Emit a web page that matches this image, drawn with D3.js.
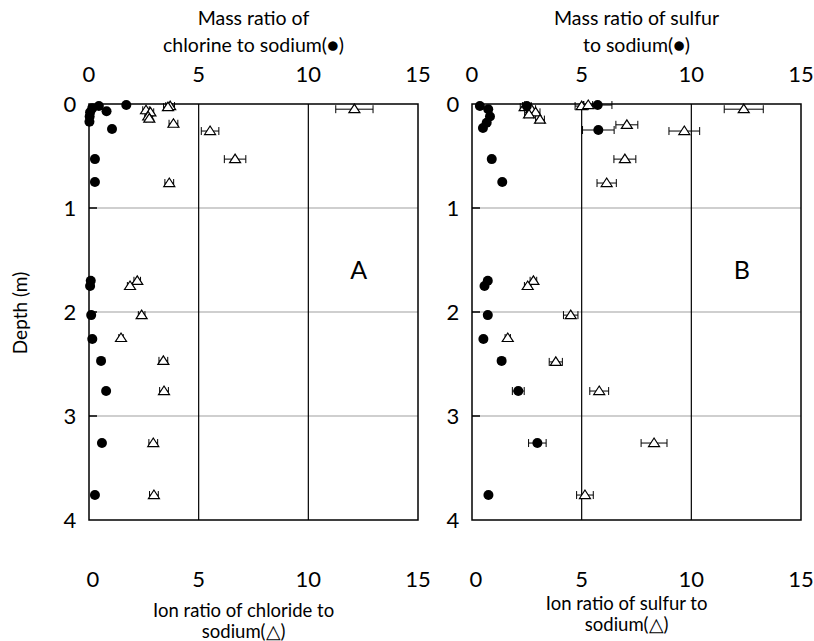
<!DOCTYPE html>
<html lang="en">
<head>
<meta charset="utf-8">
<title>Depth profiles</title>
<script src="https://d3js.org/d3.v7.min.js"></script>
<style>
  body { margin: 0; background: #fff; }
  svg { font-family: Lato, "Noto Sans", sans-serif; }
</style>
</head>
<body>
<svg id="chart" width="814" height="641"></svg>
<script>
// axis ticks
var xTicks = [0, 5, 10, 15]
var depthTicks = [0, 1, 2, 3, 4]

// panel A - chlorine, mass ratio (filled circles)
var clMassDepth = [0.01, 0.02, 0.04, 0.07, 0.08, 0.12, 0.17, 0.24, 0.53, 0.75, 1.70, 1.75, 2.03, 2.26, 2.47, 2.76, 3.26, 3.76]
var clMassVal   = [1.70, 0.45, 0.15, 0.80, 0.05, 0.03, 0.02, 1.05, 0.27, 0.27, 0.08, 0.05, 0.10, 0.15, 0.55, 0.78, 0.59, 0.27]
// panel A - chloride, ion ratio (open triangles, with error)
var clIonDepth = [0.02, 0.03, 0.06, 0.08, 0.12, 0.14, 0.19, 0.26, 0.53, 0.76, 0.05, 1.70, 1.75, 2.03, 2.25, 2.47, 2.76, 3.26, 3.76]
var clIonVal   = [3.70, 3.60, 2.60, 2.80, 2.70, 2.75, 3.85, 5.52, 6.66, 3.66, 12.1, 2.20, 1.87, 2.40, 1.46, 3.39, 3.42, 2.93, 2.96]
var clIonErr   = [0.20, 0.20, 0.15, 0.15, 0.15, 0.15, 0.20, 0.40, 0.49, 0.20, 0.85, 0.15, 0.12, 0.15, 0.10, 0.20, 0.20, 0.20, 0.20]

// panel B - sulfur, mass ratio (filled circles, with error)
var sMassDepth = [0.01, 0.02, 0.05, 0.12, 0.18, 0.23, 0.02, 0.25, 0.53, 0.75, 1.70, 1.75, 2.03, 2.26, 2.47, 2.76, 3.26, 3.76]
var sMassVal   = [5.73, 0.36, 0.74, 0.82, 0.67, 0.50, 2.50, 5.76, 0.90, 1.38, 0.72, 0.57, 0.72, 0.52, 1.35, 2.11, 2.98, 0.75]
var sMassErr   = [0.65, 0.00, 0.00, 0.00, 0.00, 0.00, 0.20, 0.72, 0.00, 0.10, 0.00, 0.00, 0.00, 0.00, 0.00, 0.27, 0.40, 0.00]
// panel B - sulfur, ion ratio (open triangles, with error)
var sIonDepth = [0.03, 0.05, 0.08, 0.10, 0.15, 0.02, 0.01, 0.20, 0.26, 0.53, 0.76, 0.05, 1.70, 1.75, 2.03, 2.25, 2.48, 2.76, 3.26, 3.76]
var sIonVal   = [2.40, 2.70, 2.90, 2.60, 3.10, 5.00, 5.30, 7.06, 9.68, 6.97, 6.14, 12.39, 2.80, 2.54, 4.50, 1.63, 3.82, 5.80, 8.30, 5.15]
var sIonErr   = [0.20, 0.20, 0.20, 0.20, 0.20, 0.30, 0.20, 0.50, 0.70, 0.50, 0.44, 0.89, 0.15, 0.15, 0.33, 0.12, 0.30, 0.43, 0.59, 0.38]

var svg = d3.select("#chart")

var y = d3.scaleLinear().domain([0, 4]).range([104, 520])

var panels = [
  {left: 89, right: 418, letter: "A",
   massD: clMassDepth, massV: clMassVal, massE: null,
   ionD: clIonDepth, ionV: clIonVal, ionE: clIonErr,
   top: ["Mass ratio of", "chlorine to sodium(\u25CF)"],
   bottom: ["Ion ratio of chloride to", "sodium(\u25B3)"], bottomY: [617, 638]},
  {left: 472, right: 801, letter: "B",
   massD: sMassDepth, massV: sMassVal, massE: sMassErr,
   ionD: sIonDepth, ionV: sIonVal, ionE: sIonErr,
   top: ["Mass ratio of sulfur", "to sodium(\u25CF)"],
   bottom: ["Ion ratio of sulfur to", "sodium(\u25B3)"], bottomY: [610, 631]}
]

function errorBars(g, x, depth, val, err) {
  var idx = d3.range(depth.length).filter(i => err[i] > 0)
  var eb = g.append("g").selectAll("g").data(idx).join("g")
  eb.append("line")
    .attr("x1", i => x(val[i] - err[i])).attr("x2", i => x(val[i] + err[i]))
    .attr("y1", i => y(depth[i])).attr("y2", i => y(depth[i]))
    .attr("stroke", "#000").attr("stroke-width", 1)
  eb.append("line")
    .attr("x1", i => x(val[i] - err[i])).attr("x2", i => x(val[i] - err[i]))
    .attr("y1", i => y(depth[i]) - 4).attr("y2", i => y(depth[i]) + 4)
    .attr("stroke", "#000").attr("stroke-width", 1)
  eb.append("line")
    .attr("x1", i => x(val[i] + err[i])).attr("x2", i => x(val[i] + err[i]))
    .attr("y1", i => y(depth[i]) - 4).attr("y2", i => y(depth[i]) + 4)
    .attr("stroke", "#000").attr("stroke-width", 1)
}

panels.forEach(p => {
  var x = d3.scaleLinear().domain([0, 15]).range([p.left, p.right])
  var g = svg.append("g")

  // horizontal grid (gray)
  g.selectAll(".hgrid").data([1, 2, 3]).join("line")
    .attr("x1", p.left).attr("x2", p.right)
    .attr("y1", d => y(d)).attr("y2", d => y(d))
    .attr("stroke", "#a0a0a0").attr("stroke-width", 1.2)
  // vertical grid (black)
  g.selectAll(".vgrid").data([5, 10]).join("line")
    .attr("x1", d => x(d)).attr("x2", d => x(d))
    .attr("y1", y(0)).attr("y2", y(4))
    .attr("stroke", "#000").attr("stroke-width", 1.2)
  // frame
  g.append("rect")
    .attr("x", p.left).attr("y", y(0))
    .attr("width", p.right - p.left).attr("height", y(4) - y(0))
    .attr("fill", "none").attr("stroke", "#000").attr("stroke-width", 1.5)
  // small inward ticks on depth axis
  g.selectAll(".ytick").data([1, 2, 3]).join("line")
    .attr("x1", p.left).attr("x2", p.left + 8)
    .attr("y1", d => y(d)).attr("y2", d => y(d))
    .attr("stroke", "#000").attr("stroke-width", 1.5)

  // tick labels
  g.selectAll(".xt").data(xTicks).join("text")
    .attr("x", d => x(d)).attr("y", 82)
    .attr("text-anchor", "middle").attr("font-size", 22)
    .text(d => d)
  g.selectAll(".xb").data(xTicks).join("text")
    .attr("x", d => x(d) + (d === 0 ? 4 : 0)).attr("y", 587)
    .attr("text-anchor", "middle").attr("font-size", 22)
    .text(d => d)
  g.selectAll(".yt").data(depthTicks).join("text")
    .attr("x", p.left - 19).attr("y", d => y(d) + 8)
    .attr("text-anchor", "middle").attr("font-size", 22)
    .text(d => d)

  // titles
  var cx = (p.left + p.right) / 2
  g.selectAll(".tt").data(p.top).join("text")
    .attr("x", cx).attr("y", (d, i) => 25 + i * 27)
    .attr("text-anchor", "middle").attr("font-size", 19.5)
    .text(d => d)
  var bx = p.left + (p.right - p.left) * 0.47
  g.selectAll(".bt").data(p.bottom).join("text")
    .attr("x", bx).attr("y", (d, i) => p.bottomY[i])
    .attr("text-anchor", "middle").attr("font-size", 18.5)
    .text(d => d)

  g.append("text")
    .attr("x", x(12.3)).attr("y", y(1.6) + 9)
    .attr("text-anchor", "middle").attr("font-size", 25)
    .text(p.letter)

  // error bars
  errorBars(g, x, p.ionD, p.ionV, p.ionE)
  if (p.massE) errorBars(g, x, p.massD, p.massV, p.massE)

  // triangles
  g.append("g").selectAll("path").data(d3.range(p.ionD.length)).join("path")
    .attr("transform", i => "translate(" + x(p.ionV[i]) + "," + y(p.ionD[i]) + ")")
    .attr("d", "M0,-5L5.5,3.5L-5.5,3.5Z")
    .attr("fill", "#fff").attr("stroke", "#000").attr("stroke-width", 1.2)

  // circles
  g.append("g").selectAll("circle").data(d3.range(p.massD.length)).join("circle")
    .attr("cx", i => x(p.massV[i])).attr("cy", i => y(p.massD[i]))
    .attr("r", 5).attr("fill", "#000")
})

svg.append("text")
  .attr("transform", "translate(27,313) rotate(-90)")
  .attr("text-anchor", "middle").attr("font-size", 19)
  .text("Depth (m)")
</script>
</body>
</html>
